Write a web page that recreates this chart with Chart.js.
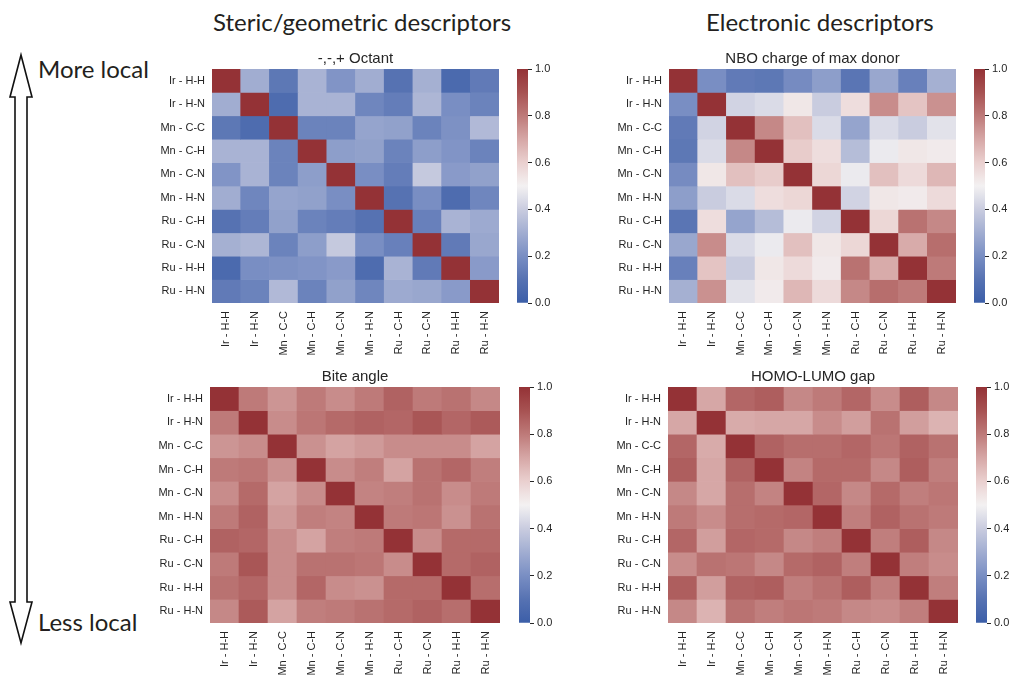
<!DOCTYPE html>
<html>
<head>
<meta charset="utf-8">
<script src="https://cdn.jsdelivr.net/npm/chart.js@4.4.1/dist/chart.umd.min.js"></script>
<style>
  html, body { margin: 0; padding: 0; background: #ffffff; }
  body { width: 1013px; height: 676px; position: relative; overflow: hidden; }
  .panel { position: absolute; }
  .heading { position: absolute; font-family: 'Lato', 'Open Sans', sans-serif; font-size: 24px; color: #231f20; white-space: nowrap; line-height: 1; }
  svg.arrow { position: absolute; left: 0; top: 0; }
</style>
</head>
<body>

<div class="heading" style="left:213px; top:10px;">Steric/geometric descriptors</div>
<div class="heading" style="left:706px; top:10px;">Electronic descriptors</div>
<div class="heading" style="left:38px; top:57px;">More local</div>
<div class="heading" style="left:38px; top:610px;">Less local</div>

<svg class="arrow" width="50" height="676">
  <polygon points="21,55 32,97 27,97 27,602 32,602 21,643 10,602 15,602 15,97 10,97"
           fill="#ffffff" stroke="#111111" stroke-width="1.6" stroke-linejoin="miter"/>
</svg>

<script>
// Descriptor names used on both axes of every correlation matrix
const descriptorLabels = ['Ir - H-H', 'Ir - H-N', 'Mn - C-C', 'Mn - C-H', 'Mn - C-N',
                          'Mn - H-N', 'Ru - C-H', 'Ru - C-N', 'Ru - H-H', 'Ru - H-N'];

// Colour-bar tick values
const colorbarTicks = [0.0, 0.2, 0.4, 0.6, 0.8, 1.0];

// Correlation matrices (rows/cols in descriptorLabels order)
const octantCorr = [
  [1.00, 0.30, 0.12, 0.32, 0.22, 0.30, 0.10, 0.31, 0.06, 0.13],
  [0.30, 1.00, 0.07, 0.32, 0.32, 0.17, 0.14, 0.33, 0.20, 0.16],
  [0.12, 0.07, 1.00, 0.16, 0.16, 0.27, 0.26, 0.16, 0.21, 0.34],
  [0.32, 0.32, 0.16, 1.00, 0.25, 0.26, 0.16, 0.25, 0.22, 0.16],
  [0.22, 0.32, 0.16, 0.25, 1.00, 0.20, 0.14, 0.39, 0.24, 0.26],
  [0.30, 0.17, 0.27, 0.26, 0.20, 1.00, 0.10, 0.20, 0.07, 0.17],
  [0.10, 0.14, 0.26, 0.16, 0.14, 0.10, 1.00, 0.15, 0.32, 0.29],
  [0.31, 0.33, 0.16, 0.25, 0.39, 0.20, 0.15, 1.00, 0.13, 0.28],
  [0.06, 0.20, 0.21, 0.22, 0.24, 0.07, 0.32, 0.13, 1.00, 0.24],
  [0.13, 0.16, 0.34, 0.16, 0.26, 0.17, 0.29, 0.28, 0.24, 1.00]
];

const nboCorr = [
  [1.00, 0.20, 0.13, 0.12, 0.19, 0.25, 0.11, 0.28, 0.15, 0.31],
  [0.20, 1.00, 0.42, 0.44, 0.53, 0.40, 0.56, 0.76, 0.63, 0.75],
  [0.13, 0.42, 1.00, 0.77, 0.64, 0.44, 0.27, 0.44, 0.40, 0.46],
  [0.12, 0.44, 0.77, 1.00, 0.61, 0.56, 0.35, 0.48, 0.53, 0.52],
  [0.19, 0.53, 0.64, 0.61, 1.00, 0.58, 0.48, 0.64, 0.57, 0.66],
  [0.25, 0.40, 0.44, 0.56, 0.58, 1.00, 0.42, 0.53, 0.52, 0.57],
  [0.11, 0.56, 0.27, 0.35, 0.48, 0.42, 1.00, 0.58, 0.82, 0.77],
  [0.28, 0.76, 0.44, 0.48, 0.64, 0.53, 0.58, 1.00, 0.69, 0.83],
  [0.15, 0.63, 0.40, 0.53, 0.57, 0.52, 0.82, 0.69, 1.00, 0.80],
  [0.31, 0.75, 0.46, 0.52, 0.66, 0.57, 0.77, 0.83, 0.80, 1.00]
];

const biteCorr = [
  [1.00, 0.80, 0.74, 0.80, 0.76, 0.80, 0.86, 0.80, 0.82, 0.77],
  [0.80, 1.00, 0.76, 0.81, 0.84, 0.86, 0.85, 0.89, 0.85, 0.88],
  [0.74, 0.76, 1.00, 0.75, 0.71, 0.73, 0.76, 0.76, 0.76, 0.71],
  [0.80, 0.81, 0.75, 1.00, 0.76, 0.79, 0.71, 0.82, 0.85, 0.79],
  [0.76, 0.84, 0.71, 0.76, 1.00, 0.78, 0.79, 0.82, 0.76, 0.80],
  [0.80, 0.86, 0.73, 0.79, 0.78, 1.00, 0.80, 0.81, 0.75, 0.82],
  [0.86, 0.85, 0.76, 0.71, 0.79, 0.80, 1.00, 0.76, 0.84, 0.84],
  [0.80, 0.89, 0.76, 0.82, 0.82, 0.81, 0.76, 1.00, 0.84, 0.86],
  [0.82, 0.85, 0.76, 0.85, 0.76, 0.75, 0.84, 0.84, 1.00, 0.83],
  [0.77, 0.88, 0.71, 0.79, 0.80, 0.82, 0.84, 0.86, 0.83, 1.00]
];

const gapCorr = [
  [1.00, 0.70, 0.85, 0.87, 0.77, 0.80, 0.85, 0.76, 0.87, 0.77],
  [0.70, 1.00, 0.69, 0.70, 0.70, 0.76, 0.72, 0.82, 0.72, 0.67],
  [0.85, 0.69, 1.00, 0.86, 0.83, 0.83, 0.85, 0.81, 0.86, 0.82],
  [0.87, 0.70, 0.86, 1.00, 0.78, 0.84, 0.84, 0.77, 0.87, 0.79],
  [0.77, 0.70, 0.83, 0.78, 1.00, 0.85, 0.77, 0.84, 0.79, 0.81],
  [0.80, 0.76, 0.83, 0.84, 0.85, 1.00, 0.79, 0.86, 0.82, 0.80],
  [0.85, 0.72, 0.85, 0.84, 0.77, 0.79, 1.00, 0.79, 0.87, 0.77],
  [0.76, 0.82, 0.81, 0.77, 0.84, 0.86, 0.79, 1.00, 0.79, 0.76],
  [0.87, 0.72, 0.86, 0.87, 0.79, 0.82, 0.87, 0.79, 1.00, 0.79],
  [0.77, 0.67, 0.82, 0.79, 0.81, 0.80, 0.77, 0.76, 0.79, 1.00]
];

// Diverging blue-white-red colour map, anchors at 0.0, 0.1, ... 1.0
const CMAP = [
  [59, 94, 168], [86, 114, 178], [121, 142, 195], [161, 173, 209], [201, 204, 223],
  [243, 241, 242], [234, 208, 207], [214, 167, 166], [190, 122, 121], [167, 82, 82], [148, 50, 54]
];
function cmap(v) {
  const t = Math.min(1, Math.max(0, v)) * (CMAP.length - 1);
  const i = Math.min(CMAP.length - 2, Math.floor(t));
  const f = t - i;
  const a = CMAP[i], b = CMAP[i + 1];
  const c = a.map((x, k) => Math.round(x + (b[k] - x) * f));
  return `rgb(${c[0]},${c[1]},${c[2]})`;
}

const FONT_FAMILY = "'Liberation Sans', Arial, sans-serif";
const TICK_FONT = { family: FONT_FAMILY, size: 11 };
const TEXT_COLOR = '#262626';
Chart.defaults.font.family = FONT_FAMILY;
Chart.defaults.color = TEXT_COLOR;

// Draws the panel title centred over the plotting area
const panelTitle = {
  id: 'panelTitle',
  afterDraw(chart, args, opts) {
    const { ctx, chartArea } = chart;
    ctx.save();
    ctx.font = `15px ${FONT_FAMILY}`;
    ctx.fillStyle = TEXT_COLOR;
    ctx.textAlign = 'center';
    ctx.textBaseline = 'middle';
    ctx.fillText(opts.text, (chartArea.left + chartArea.right) / 2, chartArea.top - 10);
    ctx.restore();
  }
};

function addCanvas(left, top, width, height) {
  const div = document.createElement('div');
  div.className = 'panel';
  div.style.left = left + 'px';
  div.style.top = top + 'px';
  const cv = document.createElement('canvas');
  cv.width = width; cv.height = height;
  cv.style.width = width + 'px'; cv.style.height = height + 'px';
  div.appendChild(cv);
  document.body.appendChild(div);
  return cv;
}

function heatmap(area, title, matrix) {
  const YW = 90, XH = 80, TOP = 26, RIGHT = 12;
  const cv = addCanvas(area.x - YW, area.y - TOP, YW + area.w + RIGHT, TOP + area.h + XH);
  const datasets = matrix.map((row, r) => ({
    label: descriptorLabels[r],
    data: row.map(() => [r, r + 1]),
    backgroundColor: row.map(v => cmap(v)),
    borderWidth: 0,
    barPercentage: 1,
    categoryPercentage: 1
  }));
  return new Chart(cv, {
    type: 'bar',
    data: { labels: descriptorLabels, datasets },
    options: {
      responsive: false,
      animation: false,
      devicePixelRatio: 1,
      grouped: false,
      layout: { padding: { top: TOP, right: RIGHT, left: 0, bottom: 0 } },
      plugins: { legend: { display: false }, tooltip: { enabled: false }, panelTitle: { text: title } },
      scales: {
        x: {
          type: 'category',
          grid: { display: false, drawTicks: false },
          border: { display: false },
          ticks: { autoSkip: false, maxRotation: 90, minRotation: 90, padding: 8, font: TICK_FONT, color: TEXT_COLOR },
          afterFit: s => { s.height = XH; }
        },
        y: {
          type: 'linear', min: 0, max: descriptorLabels.length, reverse: true,
          grid: { display: false, drawTicks: false },
          border: { display: false },
          afterBuildTicks: s => { s.ticks = descriptorLabels.map((_, i) => ({ value: i + 0.5 })); },
          ticks: { autoSkip: false, padding: 7, font: TICK_FONT, color: TEXT_COLOR,
                   callback: v => descriptorLabels[Math.floor(v)] },
          afterFit: s => { s.width = YW; }
        }
      }
    },
    plugins: [panelTitle]
  });
}

function colorbar(area) {
  const PAD = 10, AW = 34;
  const cv = addCanvas(area.x, area.y - PAD, area.w + AW, area.h + 2 * PAD);
  return new Chart(cv, {
    type: 'bar',
    data: {
      labels: ['scale'],
      datasets: [{
        data: [[0, 1]],
        borderWidth: 0,
        barPercentage: 1,
        categoryPercentage: 1,
        backgroundColor: ctx => {
          const a = ctx.chart.chartArea;
          if (!a) return '#ffffff';
          const g = ctx.chart.ctx.createLinearGradient(0, a.bottom, 0, a.top);
          for (let k = 0; k <= 40; k++) g.addColorStop(k / 40, cmap(k / 40));
          return g;
        }
      }]
    },
    options: {
      responsive: false,
      animation: false,
      devicePixelRatio: 1,
      layout: { padding: { top: PAD, bottom: PAD, left: 0, right: 0 } },
      plugins: { legend: { display: false }, tooltip: { enabled: false } },
      scales: {
        x: { display: false },
        y: {
          position: 'right', min: 0, max: 1,
          border: { display: false },
          grid: { display: true, drawOnChartArea: false, drawTicks: true, tickLength: 4, color: TEXT_COLOR, lineWidth: 1 },
          afterBuildTicks: s => { s.ticks = colorbarTicks.map(v => ({ value: v })); },
          ticks: { padding: 3, font: TICK_FONT, color: TEXT_COLOR, callback: v => v.toFixed(1) },
          afterFit: s => { s.width = AW; }
        }
      }
    }
  });
}

heatmap({ x: 212, y: 69, w: 287, h: 234 }, '-,-,+ Octant', octantCorr);
colorbar({ x: 517, y: 69, w: 11, h: 234 });
heatmap({ x: 669, y: 69, w: 287, h: 234 }, 'NBO charge of max donor', nboCorr);
colorbar({ x: 974, y: 69, w: 11, h: 234 });
heatmap({ x: 210, y: 387, w: 290, h: 236 }, 'Bite angle', biteCorr);
colorbar({ x: 519, y: 387, w: 11, h: 236 });
heatmap({ x: 668, y: 387, w: 290, h: 236 }, 'HOMO-LUMO gap', gapCorr);
colorbar({ x: 976, y: 387, w: 11, h: 236 });
</script>
</body>
</html>
